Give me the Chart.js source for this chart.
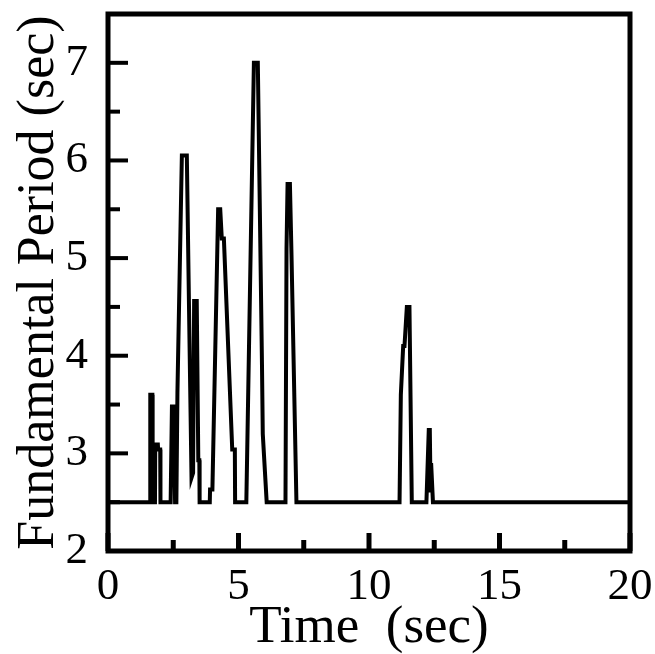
<!DOCTYPE html>
<html>
<head>
<meta charset="utf-8">
<script src="https://cdn.jsdelivr.net/npm/chart.js@4/dist/chart.umd.min.js"></script>
<style>
html, body { margin: 0; padding: 0; background: #fff; }
</style>
</head>
<body>
<canvas id="chart" width="655" height="654"></canvas>
<script>
// Vertices of the trace: time (sec) and fundamental period (sec)
const times = [
  0, 1.61, 1.62, 1.70, 1.71, 1.80, 1.81, 1.91, 1.92, 2.00, 2.01,
  2.40, 2.45, 2.52, 2.57, 2.62, 2.66, 2.83, 3.02, 3.12, 3.20, 3.26, 3.30, 3.40, 3.46, 3.50, 3.51,
  3.90, 3.91, 4.00, 4.22, 4.30, 4.36, 4.44, 4.76, 4.86, 4.87,
  5.30, 5.59, 5.74, 5.90, 5.93, 6.08,
  6.80, 6.84, 6.88, 6.97, 7.03, 7.22,
  11.17, 11.22, 11.31, 11.36, 11.45, 11.55, 11.64,
  12.20, 12.29, 12.33, 12.36, 12.38, 12.45,
  20
];
const periods = [
  2.5, 2.5, 3.6, 3.6, 2.5, 2.5, 3.09, 3.09, 3.04, 3.04, 2.5,
  2.5, 3.48, 3.48, 2.5, 2.5, 3.62, 6.05, 6.05, 4.2, 2.75, 2.8, 4.56, 4.56, 2.93, 2.93, 2.5,
  2.5, 2.63, 2.63, 5.5, 5.5, 5.2, 5.2, 3.04, 3.04, 2.5,
  2.5, 7.0, 7.0, 3.9, 3.2, 2.5,
  2.5, 5.1, 5.76, 5.76, 5.04, 2.5,
  2.5, 3.6, 4.1, 4.1, 4.5, 4.5, 2.5,
  2.5, 3.24, 3.24, 2.6, 2.9, 2.5,
  2.5
];

// Labelled (major) ticks; the other ticks are short unlabelled ones
const xTickLabels = [0, 5, 10, 15, 20];
const yTickLabels = [2, 3, 4, 5, 6, 7];

const serif = "'Liberation Serif', 'DejaVu Serif', serif";

// Draws the box round the plot and the inward tick marks
const frameAndTicks = {
  id: 'frameAndTicks',
  afterDatasetsDraw(chart) {
    const {ctx, chartArea: a, scales} = chart;
    ctx.save();
    ctx.strokeStyle = '#000';
    ctx.lineWidth = 5;
    scales.x.ticks.forEach(t => {
      let px = scales.x.getPixelForValue(t.value);
      let len = xTickLabels.includes(t.value) ? 18 : 11;
      ctx.beginPath();
      ctx.moveTo(px, a.bottom);
      ctx.lineTo(px, a.bottom - len);
      ctx.stroke();
    });
    ctx.lineWidth = 4;
    scales.y.ticks.forEach(t => {
      let py = scales.y.getPixelForValue(t.value);
      let len = yTickLabels.includes(t.value) ? 20 : 12;
      ctx.beginPath();
      ctx.moveTo(a.left, py);
      ctx.lineTo(a.left + len, py);
      ctx.stroke();
    });
    ctx.lineWidth = 5;
    ctx.strokeRect(a.left, a.top, a.right - a.left, a.bottom - a.top);
    ctx.restore();
  }
};

const points = times.map((t, i) => ({x: t, y: periods[i]}));

new Chart(document.getElementById('chart'), {
  type: 'line',
  data: {
    datasets: [{
      data: points,
      borderColor: '#000',
      borderWidth: 4,
      pointRadius: 0,
      tension: 0,
      fill: false
    }]
  },
  options: {
    responsive: false,
    animation: false,
    layout: { padding: {left: 0, top: 14, right: 25, bottom: 0} },
    plugins: {
      legend: { display: false },
      tooltip: { enabled: false }
    },
    scales: {
      x: {
        type: 'linear',
        min: 0,
        max: 20,
        grid: { display: false, drawTicks: false },
        border: { display: false },
        ticks: {
          stepSize: 2.5,
          autoSkip: false,
          maxRotation: 0,
          padding: 9,
          color: '#000',
          font: { family: serif, size: 45 },
          callback: v => xTickLabels.includes(v) ? String(v) : ''
        },
        title: {
          display: true,
          text: 'Time  (sec)',
          color: '#000',
          font: { family: serif, size: 53, lineHeight: 1 },
          padding: {top: 0, bottom: -1}
        },
        afterFit(scale) {
          scale.height = 103;
          scale.paddingLeft = 0;
          scale.paddingRight = 0;
        }
      },
      y: {
        min: 2,
        max: 7.5,
        grid: { display: false, drawTicks: false },
        border: { display: false },
        ticks: {
          stepSize: 0.5,
          autoSkip: false,
          padding: 20,
          color: '#000',
          font: { family: serif, size: 45 },
          callback: v => yTickLabels.includes(v) ? String(v) : ''
        },
        title: {
          display: true,
          text: 'Fundamental Period (sec)',
          color: '#000',
          font: { family: serif, size: 52, lineHeight: 1 },
          padding: {top: 13, bottom: 0}
        },
        afterFit(scale) {
          scale.width = 108;
          scale.paddingTop = 0;
          scale.paddingBottom = 0;
        }
      }
    }
  },
  plugins: [frameAndTicks]
});
</script>
</body>
</html>
